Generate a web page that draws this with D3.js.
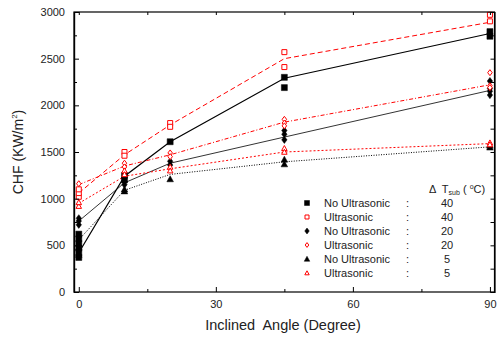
<!DOCTYPE html>
<html><head><meta charset="utf-8">
<script src="https://cdn.jsdelivr.net/npm/d3@7"></script>
<style>body{margin:0;background:#fff}svg text{font-family:"Liberation Sans",Arial,sans-serif}</style>
</head><body><svg id="c" width="497" height="338"></svg>
<script>
const angles = [0, 10, 20, 45, 90];
// line (mean) values per series at each angle
const lineNoUS40 = [420, 1240, 1610, 2290, 2770];
const lineUS40   = [1060, 1470, 1790, 2500, 2890];
const lineNoUS20 = [760, 1170, 1380, 1660, 2160];
const lineUS20   = [1150, 1350, 1470, 1820, 2220];
const lineNoUS5  = [560, 1090, 1260, 1395, 1555];
const lineUS5    = [950, 1240, 1320, 1500, 1590];
// measured points [angle, CHF]
const ptsNoUS40 = [[0,370],[0,420],[0,470],[0,520],[0,570],[0,620],[10,1250],[10,1200],[20,1610],[45,2300],[45,2190],[90,2790],[90,2740]];
const ptsUS40   = [[0,1020],[0,1060],[0,1100],[10,1500],[10,1460],[20,1810],[20,1770],[45,2570],[45,2410],[90,2970],[90,2900]];
const ptsNoUS20 = [[0,720],[0,760],[0,790],[10,1180],[10,1150],[20,1400],[20,1360],[45,1730],[45,1690],[45,1630],[90,2260],[90,2180],[90,2150],[90,2110]];
const ptsUS20   = [[0,1160],[10,1380],[10,1340],[20,1490],[20,1450],[45,1850],[45,1810],[45,1780],[90,2350],[90,2210],[90,2190]];
const ptsNoUS5  = [[0,400],[0,480],[10,1100],[10,1080],[20,1210],[45,1420],[45,1370],[90,1570],[90,1550]];
const ptsUS5    = [[0,920],[0,960],[10,1300],[10,1260],[20,1340],[20,1300],[45,1540],[45,1500],[90,1600],[90,1580]];
const legendLabels = ["No Ultrasonic","Ultrasonic","No Ultrasonic","Ultrasonic","No Ultrasonic","Ultrasonic"];
const legendDT = ["40","40","20","20","5","5"];
const xTicks = [0, 30, 60, 90];
const yTicks = [0, 500, 1000, 1500, 2000, 2500, 3000];

const series = [
  {line: lineNoUS40, pts: ptsNoUS40, color: "#000", dash: null, lw: 1.2, sym: "square", fill: true},
  {line: lineUS40, pts: ptsUS40, color: "#f00", dash: "5,3", lw: 1, sym: "square", fill: false},
  {line: lineNoUS20, pts: ptsNoUS20, color: "#000", dash: null, lw: 0.8, sym: "diamond", fill: true},
  {line: lineUS20, pts: ptsUS20, color: "#f00", dash: "4,2,1,2", lw: 1, sym: "diamond", fill: false},
  {line: lineNoUS5, pts: ptsNoUS5, color: "#000", dash: "1,1.5", lw: 1, sym: "triangle", fill: true},
  {line: lineUS5, pts: ptsUS5, color: "#f00", dash: "2,2", lw: 1, sym: "triangle", fill: false}
];

const svg = d3.select("#c");
const L = 74, R = 494.5, T = 12, B = 292;
const x = d3.scaleLinear().domain([-1.05, 91]).range([L, R]);
const y = d3.scaleLinear().domain([0, 3000]).range([B, T]);

function symPath(sym, s) {
  if (sym === "square") return `M${-s/2},${-s/2}h${s}v${s}h${-s}Z`;
  if (sym === "diamond") return `M0,${-s*0.6}L${s*0.45},0L0,${s*0.6}L${-s*0.45},0Z`;
  return `M0,${-s*0.55}L${s*0.55},${s*0.45}L${-s*0.55},${s*0.45}Z`;
}

const lineGen = d3.line().x((d, i) => x(angles[i])).y(d => y(d));
series.forEach(s => {
  svg.append("path").attr("d", lineGen(s.line)).attr("fill", "none")
    .attr("stroke", s.color).attr("stroke-width", s.lw)
    .attr("stroke-dasharray", s.dash);
});
series.forEach(s => {
  svg.append("g").selectAll("path").data(s.pts).join("path")
    .attr("transform", d => `translate(${x(d[0])},${y(d[1])})`)
    .attr("d", symPath(s.sym, s.fill ? 6 : 5))
    .attr("fill", s.fill ? s.color : "#fff")
    .attr("stroke", s.color).attr("stroke-width", s.fill ? 0.5 : 1);
});

const axL = svg.append("g").attr("transform", `translate(${L},0)`)
  .call(d3.axisLeft(y).tickValues(yTicks).tickSize(-5).tickPadding(9).tickFormat(d3.format("d")));
const axLm = svg.append("g").attr("transform", `translate(${L},0)`)
  .call(d3.axisLeft(y).tickValues(d3.range(250, 3000, 500)).tickSize(-3).tickFormat(""));
const axR = svg.append("g").attr("transform", `translate(${R},0)`)
  .call(d3.axisRight(y).tickValues(d3.range(0, 3001, 250)).tickSize(-4).tickFormat(""));
const axB = svg.append("g").attr("transform", `translate(0,${B})`)
  .call(d3.axisBottom(x).tickValues(xTicks).tickSize(-5).tickPadding(8));
const axBm = svg.append("g").attr("transform", `translate(0,${B})`)
  .call(d3.axisBottom(x).tickValues([15, 45, 75]).tickSize(-3).tickFormat(""));
const axT = svg.append("g").attr("transform", `translate(0,${T})`)
  .call(d3.axisTop(x).tickValues([0,15,30,45,60,75,90]).tickSize(-3).tickFormat(""));
[axL, axLm, axR, axB, axBm, axT].forEach(g => {
  g.select(".domain").attr("stroke", "#000").attr("stroke-width", 1.2);
  g.selectAll("line").attr("stroke", "#000");
  g.selectAll("text").attr("font-size", 11).attr("fill", "#222")
    .attr("font-family", "Liberation Sans, Arial, sans-serif");
});
axB.select(".domain").remove(); axT.select(".domain").remove();
axBm.select(".domain").remove();
svg.append("rect").attr("x", L).attr("y", T).attr("width", R - L).attr("height", B - T)
  .attr("fill", "none").attr("stroke", "#000").attr("stroke-width", 1.2);

svg.append("text").attr("x", 283).attr("y", 330).attr("text-anchor", "middle")
  .attr("font-size", 14.5).attr("fill", "#222").attr("xml:space", "preserve").text("Inclined  Angle (Degree)");
const yt = svg.append("text").attr("transform", `translate(23,${(T + B) / 2}) rotate(-90)`)
  .attr("text-anchor", "middle").attr("font-size", 14).attr("fill", "#222");
yt.append("tspan").text("CHF (KW/m");
yt.append("tspan").attr("font-size", 8).attr("dy", -6).text("2");
yt.append("tspan").attr("dy", 6).text(")");

const lg = svg.append("g");
const hdr = lg.append("text").attr("x", 429).attr("y", 193).attr("font-size", 11).attr("fill", "#222")
  .attr("xml:space", "preserve");
hdr.append("tspan").text("Δ  T");
hdr.append("tspan").attr("font-size", 7).attr("dy", 2).text("sub");
hdr.append("tspan").attr("dy", -2).text(" ( ");
hdr.append("tspan").attr("font-size", 7).attr("dy", -4).text("o");
hdr.append("tspan").attr("dy", 4).text("C)");
series.forEach((s, i) => {
  const yy = 203 + i * 14;
  lg.append("path").attr("transform", `translate(307,${yy})`)
    .attr("d", symPath(s.sym, s.fill ? 5 : 4))
    .attr("fill", s.fill ? s.color : "#fff").attr("stroke", s.color).attr("stroke-width", s.fill ? 0.5 : 1);
  lg.append("text").attr("x", 324).attr("y", yy + 4).attr("font-size", 11).attr("fill", "#222").text(legendLabels[i]);
  lg.append("text").attr("x", 406).attr("y", yy + 4).attr("font-size", 11).attr("fill", "#222").text(":");
  lg.append("text").attr("x", 447).attr("y", yy + 4).attr("font-size", 11).attr("fill", "#222")
    .attr("text-anchor", "middle").text(legendDT[i]);
});
</script></body></html>
